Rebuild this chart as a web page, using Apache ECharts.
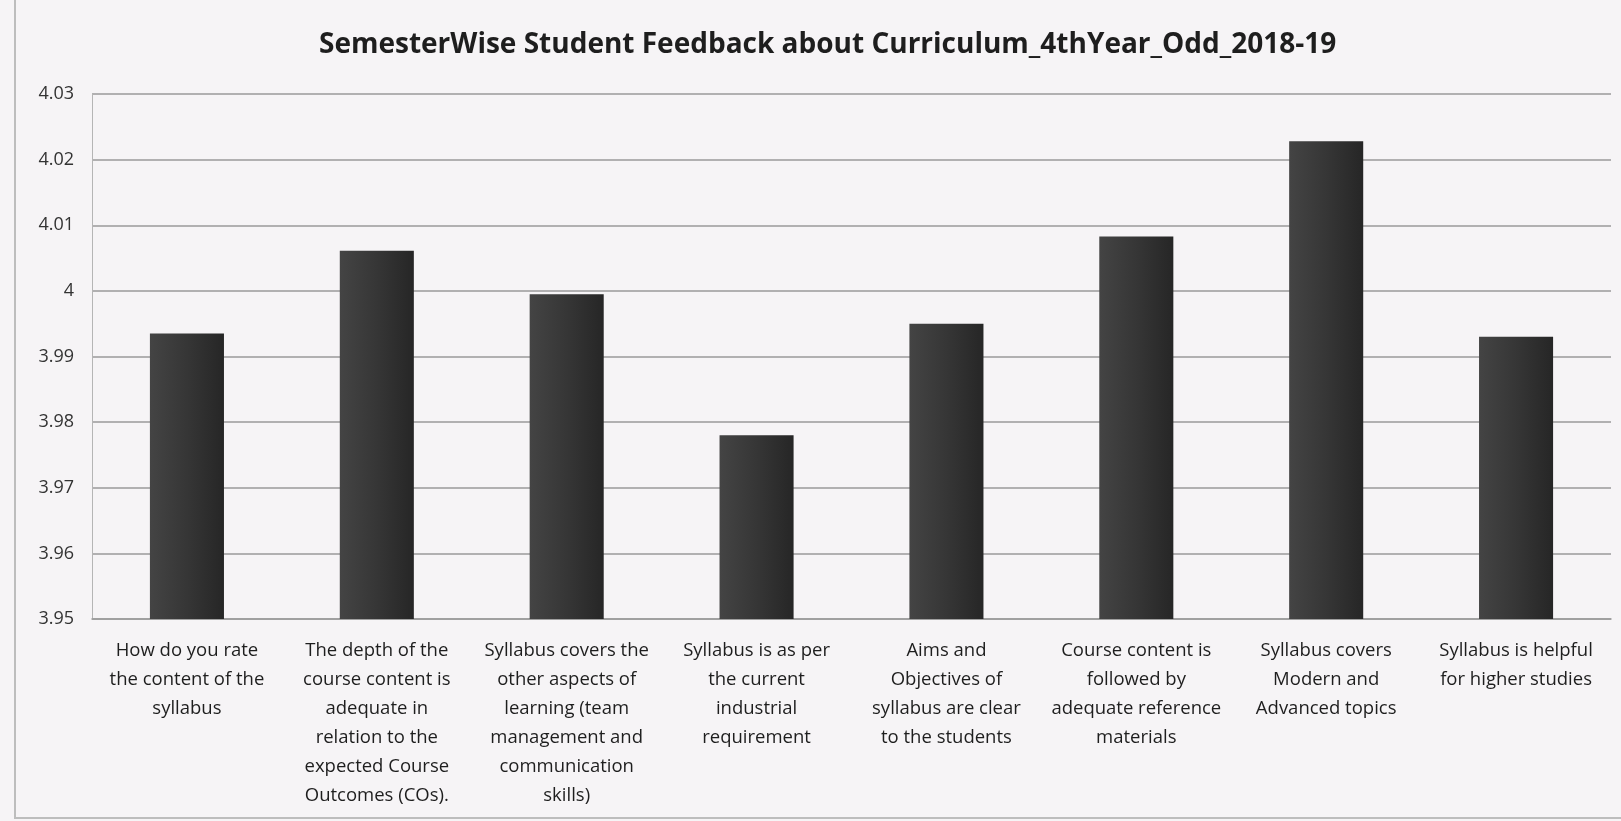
<!DOCTYPE html>
<html>
<head>
<meta charset="utf-8">
<script src="https://cdn.jsdelivr.net/npm/echarts@6/dist/echarts.min.js"></script>
<style>
  html, body { margin: 0; padding: 0; background: #f6f4f6; }
  #chart { width: 1621px; height: 821px; }
</style>
</head>
<body>
<div id="chart"></div>
<script>
const categories = [
  'How do you rate\nthe content of the\nsyllabus',
  'The depth of the\ncourse content is\nadequate in\nrelation to the\nexpected Course\nOutcomes (COs).',
  'Syllabus covers the\nother aspects of\nlearning (team\nmanagement and\ncommunication\nskills)',
  'Syllabus is as per\nthe current\nindustrial\nrequirement',
  'Aims and\nObjectives of\nsyllabus are clear\nto the students',
  'Course content is\nfollowed by\nadequate reference\nmaterials',
  'Syllabus covers\nModern and\nAdvanced topics',
  'Syllabus is helpful\nfor higher studies'
]
const scores = [3.9935, 4.0061, 3.9995, 3.978, 3.995, 4.0083, 4.0228, 3.993]
const yMin = 3.95
const yMax = 4.03
const yStep = 0.01

const myChart = echarts.init(document.getElementById('chart'))

myChart.setOption({
  backgroundColor: '#f6f4f6',
  // scanned chart border (left / bottom)
  graphic: [
    {
      type: 'rect',
      silent: true,
      shape: { x: 15, y: -10, width: 1640, height: 828 },
      style: { fill: 'none', stroke: '#bdbdbd', lineWidth: 2 }
    }
  ],
  title: {
    text: 'SemesterWise Student Feedback about Curriculum_4thYear_Odd_2018-19',
    left: 314,
    top: 26,
    textStyle: {
      fontFamily: 'Open Sans',
      fontSize: 28,
      fontWeight: 'bold',
      color: '#1e1e1e'
    }
  },
  grid: {
    left: 92,
    right: 10,
    top: 94,
    bottom: 202
  },
  xAxis: {
    type: 'category',
    data: categories,
    axisLine: { show: true, lineStyle: { color: '#9a9a9a', width: 1.5 } },
    axisTick: { show: false },
    axisLabel: {
      interval: 0,
      margin: 17,
      fontFamily: 'Open Sans',
      fontSize: 18.5,
      lineHeight: 29,
      color: '#1e1e1e'
    }
  },
  yAxis: {
    type: 'value',
    min: yMin,
    max: yMax,
    interval: yStep,
    axisLine: { show: true, lineStyle: { color: '#b5b5b5', width: 1 } },
    axisTick: { show: false },
    axisLabel: {
      margin: 18,
      fontFamily: 'Open Sans',
      fontSize: 18,
      color: '#333'
    },
    splitLine: { lineStyle: { color: '#9a9a9a', width: 1.5 } }
  },
  series: [
    {
      name: 'Score',
      type: 'bar',
      data: scores,
      barWidth: '39%',
      itemStyle: {
        color: new echarts.graphic.LinearGradient(0, 0, 1, 0, [
          { offset: 0, color: '#444' },
          { offset: 0.5, color: '#363636' },
          { offset: 1, color: '#262626' }
        ])
      }
    }
  ]
})

myChart.setOption({
  yAxis: { axisLabel: { formatter: v => String(+v.toFixed(2)) } }
})
</script>
</body>
</html>
